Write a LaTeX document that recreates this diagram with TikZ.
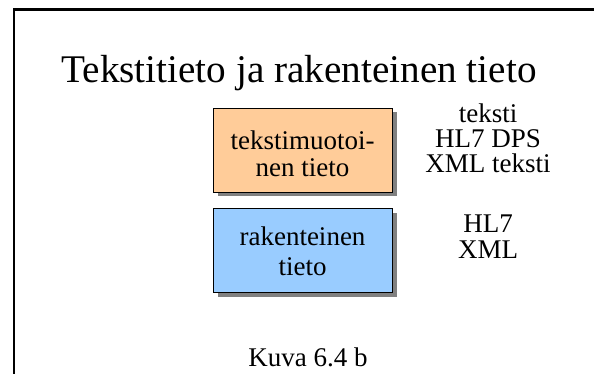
\documentclass[tikz,border=0pt]{standalone}
\usepackage{fontspec}
\setmainfont{Liberation Serif}
\usetikzlibrary{shadows}
\definecolor{textorange}{HTML}{FFCC99}
\definecolor{structblue}{HTML}{99CCFF}
\definecolor{shadowgray}{HTML}{808080}
\begin{document}
\begin{tikzpicture}[x=1pt,y=-1pt,
  panel/.style={draw=black, line width=0.9pt, minimum width=179pt,
    minimum height=84pt, inner sep=0pt,
    drop shadow={shadow xshift=4.5pt, shadow yshift=-4.5pt, fill=shadowgray, opacity=1}},
  label/.style={anchor=base, inner sep=0pt, font=\fontsize{27}{27}\selectfont},
  heading/.style={anchor=base, inner sep=0pt, font=\fontsize{39.2}{41}\selectfont}]
\useasboundingbox (0,0) rectangle (594,374);

% frame: top rule and left rule
\draw[line width=2.6pt] (594,9.5) -- (14,9.5) -- (14,374);

% heading
\node[heading] (title) at (299,83) {Tekstitieto ja rakenteinen tieto};

% boxes
\node[panel, fill=textorange] (textbox) at (302.5,150) {};
\node[panel, fill=structblue] (structbox) at (302.5,250) {};

% box labels
\node[label] (tb1) at (302.5,150) {tekstimuotoi-};
\node[label] (tb2) at (302.5,177) {nen tieto};
\node[label] (sb1) at (302.5,245) {rakenteinen};
\node[label] (sb2) at (302.5,275) {tieto};

% formats beside the boxes
\node[label] (f1) at (488,123) {teksti};
\node[label] (f2) at (488,148) {HL7 DPS};
\node[label] (f3) at (488,173) {XML teksti};
\node[label] (f4) at (488,233) {HL7};
\node[label] (f5) at (488,258) {XML};

% caption
\node[label] (caption) at (308,366.5) {Kuva 6.4 b};
\end{tikzpicture}
\end{document}
